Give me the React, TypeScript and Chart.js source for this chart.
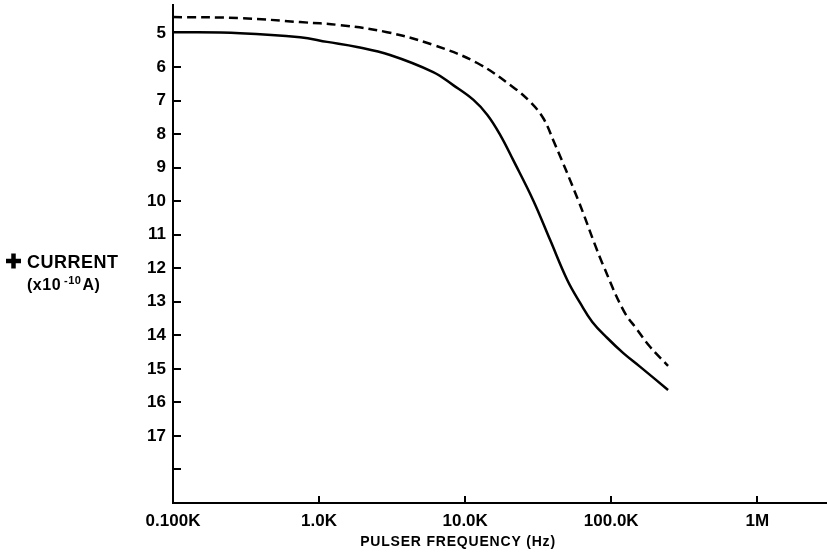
import React, { useEffect, useRef } from "react";
import { Chart, registerables } from "chart.js";

Chart.register(...registerables);

// Pulser frequency (Hz) and current (x10^-10 A), solid curve
const solidFreq = [100, 288, 741, 1135, 1820, 3060, 6040, 8280, 11400, 14200, 17400, 21300, 29200, 38200, 50000, 61400, 74200, 94000, 121000, 158000, 245000];
const solidCurrent = [4.96, 4.99, 5.11, 5.25, 5.4, 5.64, 6.15, 6.54, 6.98, 7.43, 8.03, 8.77, 9.97, 11.16, 12.35, 13.04, 13.6, 14.08, 14.53, 14.94, 15.63];

// dashed curve
const dashedFreq = [100, 288, 741, 1390, 2920, 6040, 12100, 21300, 27900, 34200, 40100, 59400, 77600, 86700, 121000, 151000, 185000, 245000];
const dashedCurrent = [4.51, 4.54, 4.66, 4.75, 4.96, 5.34, 5.88, 6.6, 7.04, 7.52, 8.18, 9.97, 11.31, 11.84, 13.25, 13.84, 14.35, 14.91];

const xTickValues = [100, 1000, 10000, 100000, 1000000];
const xTickLabels = ["0.100K", "1.0K", "10.0K", "100.0K", "1M"];
const yTickValues = [5, 6, 7, 8, 9, 10, 11, 12, 13, 14, 15, 16, 17, 18];
const yLabelled = [5, 6, 7, 8, 9, 10, 11, 12, 13, 14, 15, 16, 17];
const yTickMarks = [6, 7, 8, 9, 10, 11, 12, 13, 14, 15, 16, 17, 18];

const xTitle = "PULSER FREQUENCY (Hz)";
const yTitleMain = "CURRENT";
const yTitleUnitA = "(x10";
const yTitleUnitExp = "-10";
const yTitleUnitB = "A)";

const FONT = "'Liberation Sans', Arial, Helvetica, sans-serif";

export default function App() {
  const ref = useRef<HTMLCanvasElement | null>(null);

  useEffect(() => {
    document.body.style.margin = "0";
    const canvas = ref.current;
    if (!canvas) return;

    const decorations = {
      id: "decorations",
      afterDraw(chart: any) {
        const ctx = chart.ctx;
        const area = chart.chartArea;
        const xs = chart.scales.x;
        const ys = chart.scales.y;
        ctx.save();
        ctx.strokeStyle = "#000";
        ctx.lineWidth = 2;
        ctx.beginPath();
        for (const v of yTickMarks) {
          const py = Math.round(ys.getPixelForValue(v));
          ctx.moveTo(area.left, py);
          ctx.lineTo(area.left + 8, py);
        }
        for (const v of xTickValues.slice(1)) {
          const px = Math.round(xs.getPixelForValue(v));
          ctx.moveTo(px, area.bottom);
          ctx.lineTo(px, area.bottom - 7);
        }
        ctx.stroke();

        ctx.fillStyle = "#000";
        ctx.textBaseline = "alphabetic";
        // x axis title
        (ctx as any).letterSpacing = "0.8px";
        ctx.font = `bold 14px ${FONT}`;
        ctx.textAlign = "center";
        ctx.fillText(xTitle, 458, 546);

        // y axis title
        ctx.textAlign = "left";
        ctx.lineWidth = 4.5;
        ctx.beginPath();
        ctx.moveTo(6, 261);
        ctx.lineTo(21, 261);
        ctx.moveTo(13.5, 253.5);
        ctx.lineTo(13.5, 268.5);
        ctx.stroke();
        (ctx as any).letterSpacing = "0.5px";
        ctx.font = `bold 18px ${FONT}`;
        ctx.fillText(yTitleMain, 27, 268);
        ctx.font = `bold 16px ${FONT}`;
        let x = 27;
        ctx.fillText(yTitleUnitA, x, 290);
        x += ctx.measureText(yTitleUnitA).width + 3;
        ctx.font = `bold 11px ${FONT}`;
        ctx.fillText(yTitleUnitExp, x, 284);
        x += ctx.measureText(yTitleUnitExp).width + 1;
        ctx.font = `bold 16px ${FONT}`;
        ctx.fillText(yTitleUnitB, x, 290);
        ctx.restore();
      },
    };

    const chart = new Chart(canvas, {
      type: "line",
      data: {
        datasets: [
          {
            data: solidFreq.map((f, i) => ({ x: f, y: solidCurrent[i] })),
            borderColor: "#000",
            borderWidth: 2.5,
            pointRadius: 0,
            tension: 0.4,
            fill: false,
          },
          {
            data: dashedFreq.map((f, i) => ({ x: f, y: dashedCurrent[i] })),
            borderColor: "#000",
            borderWidth: 2.5,
            borderDash: [9, 5],
            pointRadius: 0,
            tension: 0.4,
            fill: false,
          },
        ],
      },
      options: {
        animation: false,
        responsive: false,
        devicePixelRatio: 1,
        layout: { padding: { top: 5, left: 0, right: 0, bottom: 0 } },
        plugins: { legend: { display: false }, tooltip: { enabled: false }, title: { display: false } },
        scales: {
          x: {
            type: "logarithmic",
            min: 100,
            max: 3000000,
            afterBuildTicks: (s: any) => {
              s.ticks = xTickValues.map((v) => ({ value: v }));
            },
            afterFit: (s: any) => {
              s.height = 51;
              s.paddingLeft = 0;
              s.paddingRight = 0;
            },
            grid: { display: true, drawOnChartArea: false, drawTicks: false },
            border: { display: true, color: "#000", width: 2 },
            ticks: {
              autoSkip: false,
              maxRotation: 0,
              padding: 8,
              color: "#000",
              font: { family: FONT, size: 17, weight: "bold" },
              callback: (v: any) => {
                const i = xTickValues.indexOf(Number(v));
                return i >= 0 ? xTickLabels[i] : "";
              },
            },
          },
          y: {
            type: "linear",
            reverse: true,
            min: 4.15,
            max: 19,
            afterBuildTicks: (s: any) => {
              s.ticks = yTickValues.map((v) => ({ value: v }));
            },
            afterFit: (s: any) => {
              s.width = 173;
              s.paddingTop = 0;
              s.paddingBottom = 0;
            },
            grid: { display: true, drawOnChartArea: false, drawTicks: false },
            border: { display: true, color: "#000", width: 2 },
            ticks: {
              autoSkip: false,
              padding: 7,
              color: "#000",
              font: { family: FONT, size: 17, weight: "bold" },
              callback: (v: any) => (yLabelled.includes(Number(v)) ? String(v) : ""),
            },
          },
        },
      },
      plugins: [decorations],
    } as any);

    return () => chart.destroy();
  }, []);

  return (
    <div style={{ width: 827, height: 554, position: "relative", background: "#fff" }}>
      <canvas ref={ref} width={827} height={554} style={{ display: "block" }} />
    </div>
  );
}
